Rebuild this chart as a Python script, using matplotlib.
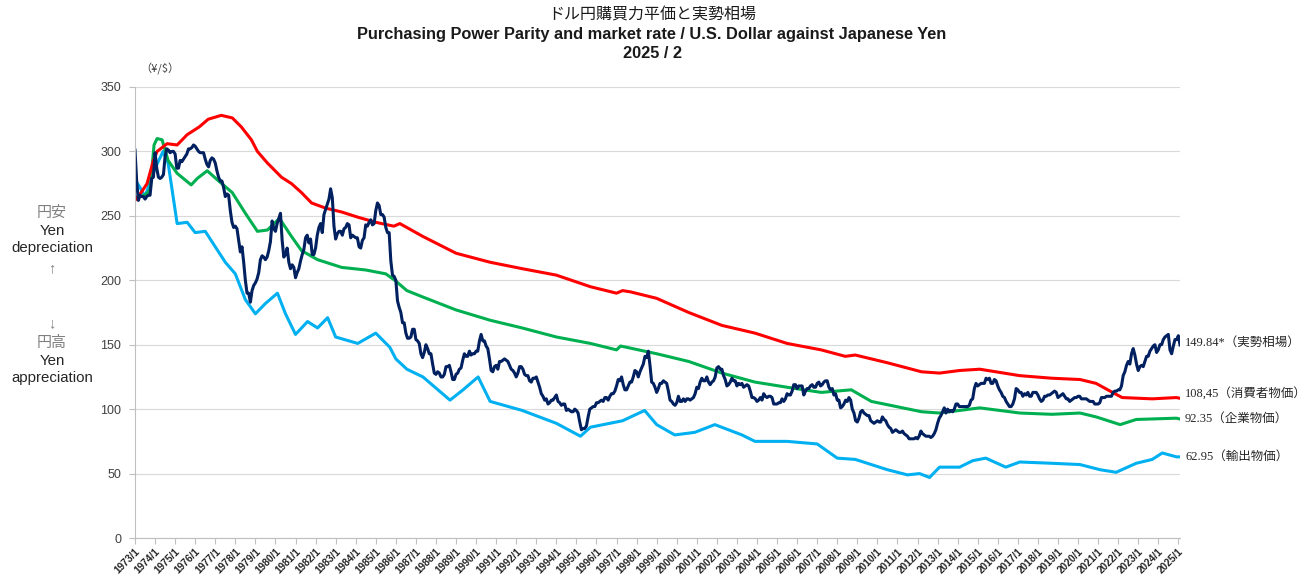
import numpy as np
import matplotlib
matplotlib.use("Agg")
import matplotlib.pyplot as plt

plt.rcParams['font.family'] = ['Liberation Sans', 'Noto Sans CJK JP']

# ---- data -------------------------------------------------------------
# market rate (yen per dollar), monthly from 1973/1 to 2025/2
usd_jpy = [
    301, 277, 262, 266, 265, 265, 263, 265, 266, 266, 279, 280,   # 1973
    299, 287, 280, 279, 280, 282, 296, 302, 301, 299, 300, 300,   # 1974
    298, 287, 287, 293, 292, 294, 296, 298, 302, 302, 303, 305,   # 1975
    304, 302, 300, 299, 299, 299, 294, 290, 288, 293, 295, 294,   # 1976
    291, 285, 280, 277, 277, 272, 265, 267, 266, 254, 245, 241,   # 1977
    242, 240, 231, 222, 226, 214, 200, 190, 190, 183, 192, 196,   # 1978
    198, 201, 206, 216, 219, 218, 216, 218, 223, 230, 246, 240,   # 1979
    238, 244, 248, 252, 231, 218, 220, 225, 214, 209, 212, 210,   # 1980
    202, 206, 209, 215, 220, 224, 233, 235, 229, 232, 220, 220,   # 1981
    225, 235, 241, 244, 237, 251, 255, 259, 263, 271, 264, 242,   # 1982
    232, 236, 238, 238, 235, 240, 241, 244, 243, 233, 235, 234,   # 1983
    233, 233, 226, 225, 231, 233, 243, 242, 245, 247, 243, 244,   # 1984
    254, 260, 258, 251, 251, 249, 241, 237, 237, 215, 204, 203,   # 1985
    200, 184, 179, 175, 167, 167, 159, 155, 155, 156, 162, 162,   # 1986
    154, 153, 151, 143, 140, 144, 150, 147, 143, 143, 135, 128,   # 1987
    127, 129, 128, 125, 125, 127, 133, 133, 134, 129, 123, 123,   # 1988
    127, 128, 131, 132, 138, 143, 141, 141, 145, 142, 143, 143,   # 1989
    145, 145, 153, 158, 153, 153, 149, 147, 139, 130, 129, 133,   # 1990
    134, 131, 137, 137, 138, 139, 138, 137, 134, 131, 130, 128,   # 1991
    125, 128, 133, 133, 131, 127, 126, 126, 122, 121, 124, 124,   # 1992
    125, 121, 117, 112, 110, 107, 108, 104, 105, 107, 107, 109,   # 1993
    111, 106, 105, 103, 104, 104, 99, 100, 99, 98, 98, 100,       # 1994
    99, 97, 90, 84, 85, 85, 87, 94, 100, 101, 102, 102,           # 1995
    105, 105, 106, 107, 106, 109, 109, 107, 110, 112, 112, 114,   # 1996
    118, 123, 122, 125, 119, 115, 115, 118, 121, 121, 125, 130,   # 1997
    129, 125, 129, 132, 135, 141, 140, 145, 134, 121, 120, 117,   # 1998
    113, 116, 120, 120, 122, 121, 120, 114, 107, 106, 104, 103,   # 1999
    105, 110, 106, 106, 108, 106, 108, 108, 107, 108, 109, 112,   # 2000
    117, 116, 121, 124, 122, 122, 125, 121, 119, 121, 122, 125,   # 2001
    132, 133, 131, 131, 126, 123, 118, 119, 121, 124, 122, 122,   # 2002
    118, 120, 119, 120, 117, 118, 119, 118, 114, 109, 109, 108,   # 2003
    106, 107, 109, 107, 112, 110, 109, 110, 110, 109, 104, 104,   # 2004
    104, 105, 105, 108, 106, 108, 112, 111, 111, 114, 119, 119,   # 2005
    116, 118, 118, 118, 111, 114, 116, 116, 118, 119, 117, 117,   # 2006
    120, 121, 118, 119, 121, 122, 122, 117, 115, 116, 111, 112,   # 2007
    107, 107, 101, 102, 104, 107, 106, 109, 107, 100, 97, 91,     # 2008
    90, 93, 98, 99, 97, 96, 95, 95, 91, 90, 89, 90,               # 2009
    91, 90, 90, 94, 92, 91, 88, 86, 85, 82, 83, 84,               # 2010
    83, 82, 82, 83, 81, 80, 79, 77, 77, 77, 77, 78,               # 2011
    77, 79, 83, 81, 80, 79, 79, 79, 78, 79, 81, 84,               # 2012
    89, 93, 95, 98, 101, 97, 100, 98, 99, 98, 100, 104,           # 2013
    104, 102, 102, 102, 102, 102, 102, 103, 107, 108, 116, 120,   # 2014
    118, 119, 120, 120, 120, 124, 123, 124, 120, 120, 123, 122,   # 2015
    118, 115, 113, 110, 109, 106, 104, 102, 102, 104, 108, 116,   # 2016
    115, 113, 113, 110, 112, 111, 113, 110, 110, 113, 113, 113,   # 2017
    111, 108, 106, 107, 110, 110, 111, 111, 112, 113, 114, 113,   # 2018
    109, 110, 111, 112, 110, 108, 108, 106, 107, 108, 109, 109,   # 2019
    110, 110, 108, 108, 108, 108, 107, 106, 106, 106, 104, 104,   # 2020
    104, 105, 109, 109, 109, 110, 110, 110, 110, 113, 114, 114,   # 2021
    115, 115, 118, 126, 129, 134, 137, 135, 143, 147, 142, 135,   # 2022
    130, 133, 134, 133, 137, 141, 141, 145, 147, 149, 150, 144,   # 2023
    146, 150, 150, 154, 156, 157, 158, 146, 143, 149, 154, 154,   # 2024
    157, 149.84,                                                  # 2025
]

# PPP readings: (year as decimal, yen per dollar)
cpi_year = [1973.0, 1973.3, 1973.6, 1973.9, 1974.1, 1974.6, 1975.1, 1975.6, 1976.2,
            1976.65, 1977.3, 1977.85, 1978.3, 1978.8, 1979.1, 1979.6, 1980.3, 1980.8,
            1981.3, 1981.8, 1982.5, 1983.3, 1984.1, 1985.0, 1985.9, 1986.2, 1987.35,
            1989.0, 1990.7, 1992.3, 1994.0, 1995.7, 1997.0, 1997.3, 1997.7, 1999.0,
            2000.6, 2002.25, 2003.9, 2005.5, 2007.2, 2008.4, 2008.9, 2010.5, 2012.2,
            2013.1, 2014.1, 2015.1, 2017.1, 2018.7, 2020.1, 2020.9, 2021.6, 2022.2,
            2023.7, 2024.9, 2025.08]
cpi_ppp = [262, 268, 275, 292, 300, 306, 305, 313, 319,
           325, 328, 326, 319, 309, 300, 291, 280, 275,
           268, 260, 256, 253, 249, 245, 242, 244, 234,
           221, 214, 209, 204, 195, 190, 192, 191, 186,
           175, 165, 159, 151, 146, 141, 142, 136, 129,
           128, 130, 131, 126, 124, 123, 120, 114, 109,
           108, 109, 108.45]

wpi_year = [1973.0, 1973.5, 1973.75, 1973.95, 1974.1, 1974.35, 1974.65, 1975.1, 1975.8,
            1976.1, 1976.6, 1977.1, 1977.85, 1978.5, 1979.1, 1979.6, 1980.2, 1980.8,
            1981.3, 1982.1, 1983.3, 1984.5, 1985.5, 1985.95, 1986.55, 1987.35, 1989.0,
            1990.7, 1992.3, 1994.0, 1995.7, 1997.0, 1997.2, 1999.0, 2000.6, 2002.25,
            2003.9, 2005.5, 2007.2, 2008.7, 2009.7, 2012.2, 2013.1, 2014.1, 2015.1,
            2017.1, 2018.7, 2020.1, 2020.9, 2022.1, 2022.9, 2024.9, 2025.08]
wpi_ppp = [264, 266, 270, 305, 310, 309, 293, 283, 274,
           279, 285, 278, 268, 252, 238, 239, 248, 234,
           223, 216, 210, 208, 205, 200, 192, 187, 177,
           169, 163, 156, 151, 146, 149, 143, 137, 128,
           121, 117, 113, 115, 106, 98, 97, 99, 101,
           97, 96, 97, 94, 88, 92, 93, 92.35]

exp_year = [1973.0, 1973.25, 1973.5, 1974.0, 1974.4, 1974.65, 1975.1, 1975.6, 1976.0,
            1976.5, 1977.0, 1977.5, 1978.0, 1978.5, 1979.0, 1979.5, 1980.1, 1980.5,
            1981.0, 1981.6, 1982.1, 1982.6, 1983.0, 1984.1, 1985.0, 1985.7, 1986.0,
            1986.55, 1987.35, 1988.7, 1989.35, 1990.1, 1990.7, 1992.3, 1994.0, 1995.2,
            1995.7, 1997.3, 1998.4, 1999.0, 1999.9, 2000.9, 2001.9, 2003.25, 2003.9,
            2005.5, 2007.0, 2008.0, 2008.9, 2010.5, 2011.5, 2012.1, 2012.6, 2013.1,
            2014.1, 2014.75, 2015.4, 2016.4, 2017.1, 2018.7, 2020.1, 2021.1, 2021.9,
            2022.9, 2023.7, 2024.2, 2024.9, 2025.08]
exp_ppp = [278, 272, 265, 287, 300, 291, 244, 245, 237,
           238, 226, 214, 205, 185, 174, 182, 190, 174,
           158, 168, 163, 171, 156, 151, 159, 148, 139,
           131, 125, 107, 115, 125, 106, 99, 89, 79,
           86, 91, 99, 88, 80, 82, 88, 80, 75,
           75, 73, 62, 61, 53, 49, 50, 47, 55,
           55, 60, 62, 55, 59, 58, 57, 53, 51,
           58, 61, 66, 63, 62.95]

tick_labels = [f"{y}/1" for y in range(1973, 2026)]
end_labels = ["149.84*（実勢相場）", "108,45（消費者物価）", "92.35（企業物価）", "62.95（輸出物価）"]

# ---- plot -------------------------------------------------------------
NAVY, RED, GREEN, CYAN = "#002060", "#FF0000", "#00B050", "#00B0F0"
LW = 2.2

fig = plt.figure(figsize=(13.12, 5.85), dpi=100)
ax = fig.add_axes([0.1029, 0.0803, 0.7965, 0.771])


def to_month(years):
    return (np.array(years) - 1973.0) * 12


ax.plot(to_month(exp_year), exp_ppp, color=CYAN, lw=LW)
ax.plot(to_month(wpi_year), wpi_ppp, color=GREEN, lw=LW)
ax.plot(to_month(cpi_year), cpi_ppp, color=RED, lw=LW)
ax.plot(np.arange(len(usd_jpy)), usd_jpy, color=NAVY, lw=LW)

n = len(usd_jpy)
ax.set_xlim(0, n - 1)
ax.set_ylim(0, 350)
ax.set_yticks(range(0, 351, 50))
ax.set_xticks(np.arange(0, n, 12))
ax.set_xticklabels(tick_labels, rotation=45, ha='right', rotation_mode='anchor',
                   fontsize=7.3, fontweight='bold', color='#262626')
ax.tick_params(axis='y', labelsize=9, labelcolor='#404040', color='#bfbfbf', length=4, pad=6)
ax.tick_params(axis='x', color='#bfbfbf', length=4, pad=2)

ax.grid(axis='y', color='#d9d9d9', lw=0.8)
ax.set_axisbelow(True)
for side in ('top', 'right'):
    ax.spines[side].set_visible(False)
for side in ('left', 'bottom'):
    ax.spines[side].set_color('#bfbfbf')

# end-of-line labels
last_vals = [usd_jpy[-1], cpi_ppp[-1], wpi_ppp[-1], exp_ppp[-1]]
nudges = [2, 4, 0, 0]
for lab, v, dy in zip(end_labels, last_vals, nudges):
    ax.text(n + 2, v + dy, lab, va='center', ha='left', fontsize=9, color='#262626',
            family=['Liberation Serif', 'Noto Sans CJK JP'], clip_on=False)

# titles
fig.text(0.497, 0.974, "ドル円購買力平価と実勢相場", ha='center', va='center',
         fontsize=11.5, family=['Noto Sans CJK JP'], color='#1a1a1a')
fig.text(0.497, 0.941, "Purchasing Power Parity and market rate / U.S. Dollar against Japanese Yen",
         ha='center', va='center', fontsize=11.8, fontweight='bold', color='#1a1a1a')
fig.text(0.497, 0.909, "2025 / 2", ha='center', va='center', fontsize=11.8,
         fontweight='bold', color='#1a1a1a')
fig.text(0.122, 0.882, "（¥/$）", ha='center', va='center', fontsize=8, color='#404040',
         family=['Noto Sans CJK JP'])

# left side notes
side_notes = [("円安", 0.636, '#808080'), ("Yen", 0.605, '#262626'),
              ("depreciation", 0.576, '#262626'), ("↑", 0.542, '#808080'),
              ("↓", 0.448, '#808080'), ("円高", 0.414, '#808080'),
              ("Yen", 0.383, '#262626'), ("appreciation", 0.354, '#262626')]
for txt, yy, col in side_notes:
    fig.text(0.0396, yy, txt, ha='center', va='center', fontsize=10.8, color=col,
             family=['Liberation Sans', 'Noto Sans CJK JP'])

fig.savefig("out.png", dpi=100)
